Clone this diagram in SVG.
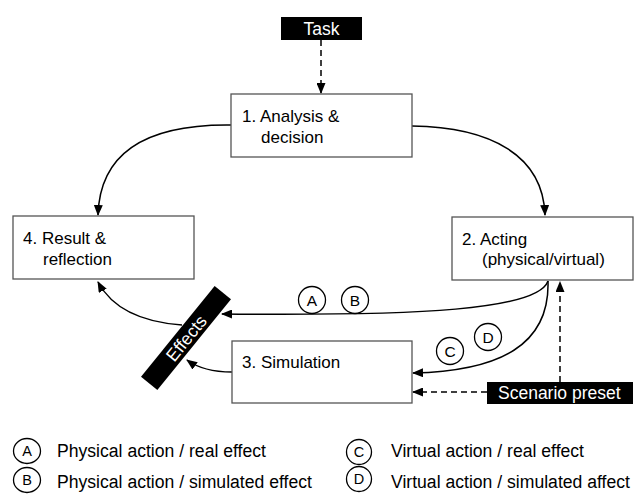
<svg xmlns="http://www.w3.org/2000/svg" width="636" height="496" viewBox="0 0 636 496">
  <defs>
    <marker id="arrow" markerWidth="11" markerHeight="9" refX="10" refY="4.5" orient="auto" markerUnits="userSpaceOnUse">
      <path d="M0,0 L11,4.5 L0,9 z" fill="#000"/>
    </marker>
    <style>
      .box { fill: #fff; stroke: #555; stroke-width: 1.3; }
      .txt { font-family: "Liberation Sans", Arial, sans-serif; font-size: 17px; fill: #000; }
      .lbl { font-family: "Liberation Sans", Arial, sans-serif; font-size: 17.5px; fill: #fff; }
      .leg { font-family: "Liberation Sans", Arial, sans-serif; font-size: 17.6px; fill: #000; }
      .tag { fill: #000; }
      .conn { fill: none; stroke: #000; stroke-width: 1.5; marker-end: url(#arrow); }
      .dash { fill: none; stroke: #000; stroke-width: 1.5; stroke-dasharray: 6 4; marker-end: url(#arrow); }
      .ring { fill: #fff; stroke: #000; stroke-width: 1.3; }
      .letter { font-family: "Liberation Sans", Arial, sans-serif; font-size: 15.5px; fill: #000; text-anchor: middle; }
      .legletter { font-family: "Liberation Sans", Arial, sans-serif; font-size: 14.5px; fill: #000; text-anchor: middle; }
    </style>
  </defs>

  <!-- connectors -->
  <g id="connectors">
    <path class="dash" d="M321,40 L321,93"/>
    <path class="conn" d="M231,125 C150,124 100,150 98,215"/>
    <path class="conn" d="M412,126 C490,127 543,155 545,215"/>
    <path class="conn" d="M548,281 C538,310 420,316 222,314"/>
    <path class="conn" d="M548,281 C550,345 500,371 413,373"/>
    <path class="conn" d="M232,372 C212,372 198,368 187,360"/>
    <path class="conn" d="M182,325 C140,322 112,308 98,282"/>
    <path class="dash" d="M560,382 L560,282"/>
    <path class="dash" d="M487,392 L413,392"/>
  </g>

  <!-- nodes -->
  <g id="task">
    <rect class="tag" x="281" y="17" width="81" height="23"/>
    <text class="lbl" x="321.5" y="35" text-anchor="middle">Task</text>
  </g>

  <g id="analysis">
    <rect class="box" x="231" y="94" width="181" height="63"/>
    <text class="txt" x="242" y="122">1. Analysis &amp;</text>
    <text class="txt" x="261" y="143">decision</text>
  </g>

  <g id="acting">
    <rect class="box" x="452" y="217" width="181" height="63"/>
    <text class="txt" x="462" y="245">2. Acting</text>
    <text class="txt" x="482" y="265">(physical/virtual)</text>
  </g>

  <g id="simulation">
    <rect class="box" x="232" y="341" width="180" height="62"/>
    <text class="txt" x="242" y="368">3. Simulation</text>
  </g>

  <g id="result">
    <rect class="box" x="13" y="216" width="181" height="63"/>
    <text class="txt" x="23" y="244">4. Result &amp;</text>
    <text class="txt" x="43" y="265">reflection</text>
  </g>

  <g id="effects" transform="translate(186,338) rotate(-51)">
    <rect class="tag" x="-58.5" y="-10.5" width="117" height="21"/>
    <text class="lbl" x="0" y="6.5" text-anchor="middle" font-size="18.5">Effects</text>
  </g>

  <g id="scenario">
    <rect class="tag" x="487" y="382" width="146" height="22"/>
    <text class="lbl" x="498" y="399">Scenario preset</text>
  </g>

  <!-- path markers on the action arrows -->
  <g id="markers">
    <circle class="ring" cx="312" cy="300" r="13.5"/>
    <text class="letter" x="312" y="305.5">A</text>
    <circle class="ring" cx="355" cy="300" r="13.5"/>
    <text class="letter" x="355" y="305.5">B</text>
    <circle class="ring" cx="450" cy="351" r="13.5"/>
    <text class="letter" x="450" y="356.5">C</text>
    <circle class="ring" cx="488" cy="337" r="13.5"/>
    <text class="letter" x="488" y="342.5">D</text>
  </g>

  <!-- legend -->
  <g id="legend">
    <ellipse class="ring" cx="27" cy="451" rx="13.5" ry="12.5"/>
    <text class="legletter" x="27" y="456">A</text>
    <ellipse class="ring" cx="27" cy="480" rx="13.5" ry="12.5"/>
    <text class="legletter" x="27" y="485">B</text>
    <text class="leg" x="57" y="457">Physical action / real effect</text>
    <text class="leg" x="57" y="488">Physical action / simulated effect</text>

    <ellipse class="ring" cx="359" cy="452" rx="12.5" ry="12.5"/>
    <text class="legletter" x="359" y="457">C</text>
    <ellipse class="ring" cx="359" cy="479" rx="12.5" ry="12.5"/>
    <text class="legletter" x="359" y="484">D</text>
    <text class="leg" x="391" y="457">Virtual action / real effect</text>
    <text class="leg" x="391" y="488">Virtual action / simulated affect</text>
  </g>
</svg>
